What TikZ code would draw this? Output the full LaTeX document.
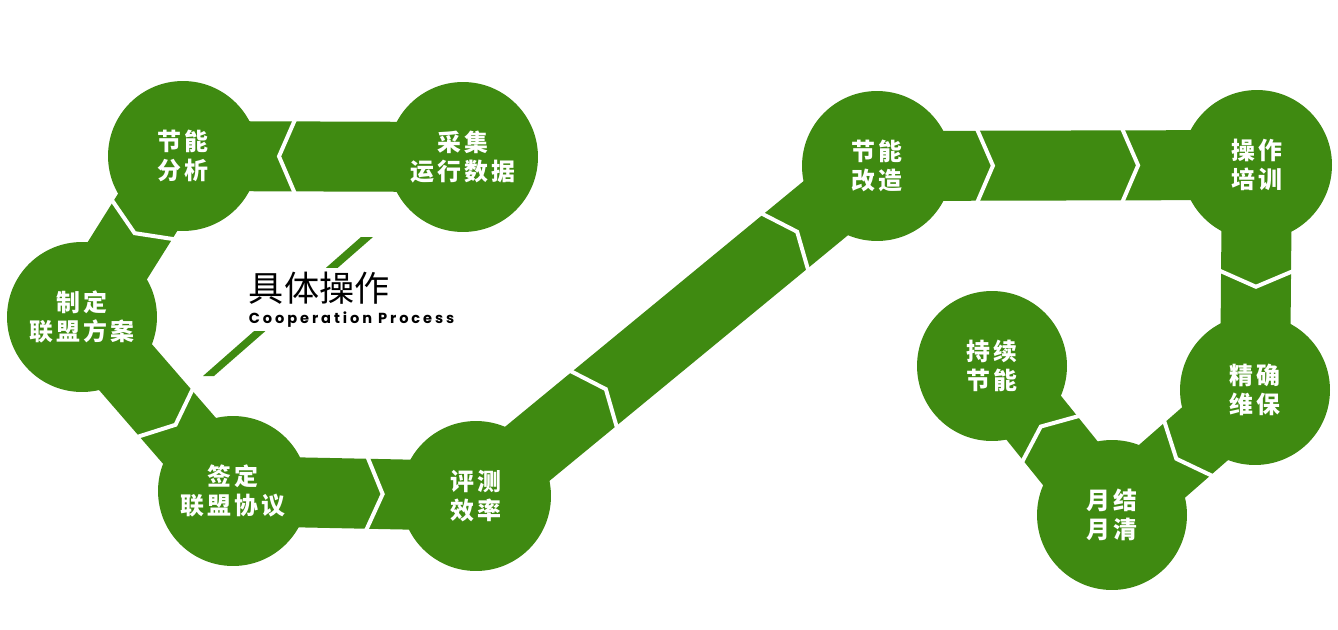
\documentclass[tikz,border=0pt]{standalone}
\usepackage{fontspec}
\usetikzlibrary{backgrounds,positioning}
\newfontfamily\cjkfont{Noto Sans CJK SC}[LetterSpace=12]
\newfontfamily\titlefont{Noto Sans CJK SC}
\newfontfamily\subfont{Poppins}[LetterSpace=20]
\definecolor{leaf}{RGB}{63,138,17}
\tikzset{chev/.pic={\draw[white,line width=0.08cm,line cap=butt] (0,-37) -- (16,0) -- (0,37);}}

\begin{document}
\begin{tikzpicture}[x=0.02cm,y=-0.02cm,
  stepnode/.style={circle,fill=leaf,minimum size=3cm,inner sep=0pt,text=white,align=center,
    font=\cjkfont\bfseries\fontsize{13.6}{16.5}\selectfont},
  band/.style={draw=leaf,line width=1.4cm},
  onband/.style={sloped,allow upside down}]
\useasboundingbox (0,0) rectangle (1338,629);
\node[stepnode] (caiji) at (463,157) {采集\\运行数据};
\node[stepnode] (fenxi) at (183,156) {节能\\分析};
\node[stepnode] (fangan) at (82,317) {制定\\联盟方案};
\node[stepnode] (xieyi) at (233,491) {签定\\联盟协议};
\node[stepnode] (pingce) at (476,496) {评测\\效率};
\node[stepnode] (gaizao) at (877,166) {节能\\改造};
\node[stepnode] (peixun) at (1257,165) {操作\\培训};
\node[stepnode] (weibao) at (1255,390) {精确\\维保};
\node[stepnode] (yuejie) at (1112,515) {月结\\月清};
\node[stepnode] (chixu) at (992,366) {持续\\节能};
% bands with chevrons
\begin{scope}[on background layer]
\draw[band] (caiji.center) -- (fenxi.center) pic[pos=0.6,onband]{chev};
\draw[band] (fenxi.center) -- (fangan.center) pic[pos=0.395,onband]{chev};
\draw[band] (fangan.center) -- (xieyi.center) pic[pos=0.55,onband]{chev};
\draw[band] (xieyi.center) -- (pingce.center) pic[pos=0.55,onband]{chev};
\draw[band] (pingce.center) -- (gaizao.center) pic[pos=0.293,onband]{chev} pic[pos=0.77,onband]{chev};
\draw[band] (gaizao.center) -- (peixun.center) pic[pos=0.263,onband]{chev} pic[pos=0.645,onband]{chev};
\draw[band] (peixun.center) -- (weibao.center) pic[pos=0.47,onband]{chev};
\draw[band] (weibao.center) -- (yuejie.center) pic[pos=0.466,onband]{chev};
\draw[band] (yuejie.center) -- (chixu.center) pic[pos=0.51,onband]{chev};
\end{scope}
% title
\fill[leaf] (361,237) -- (373,237) -- (214,376) -- (203,376) -- cycle;
\node[fill=white,anchor=west,inner sep=2pt,font=\titlefont\fontsize{20}{20}\selectfont] (title) at (245,288) {具体操作};
\node[fill=white,anchor=north west,inner sep=2pt,font=\subfont\bfseries\fontsize{8.3}{9}\selectfont] (sub) at (title.south west) {Cooperation Process};
\end{tikzpicture}
\end{document}
